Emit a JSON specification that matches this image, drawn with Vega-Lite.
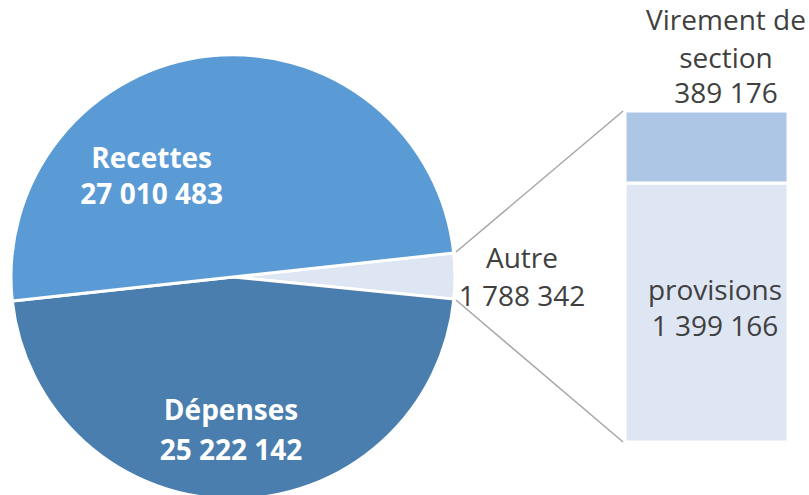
{
  "$schema": "https://vega.github.io/schema/vega-lite/v6.json",
  "width": 809,
  "height": 495,
  "padding": 0,
  "autosize": {"type": "none"},
  "background": "white",
  "config": {
    "view": {"stroke": null},
    "axis": {"disable": true},
    "locale": {"number": {"decimal": ",", "thousands": " ", "grouping": [3], "currency": ["", " €"]}},
    "text": {"font": "Open Sans", "fontSize": 28, "baseline": "middle", "align": "center"}
  },
  "datasets": {
    "camembert": [
      {"poste": "Autre", "montant": 1788342, "rang": 1},
      {"poste": "Dépenses", "montant": 25222142, "rang": 2},
      {"poste": "Recettes", "montant": 27010483, "rang": 3}
    ],
    "barre": [
      {"poste": "provisions", "montant": 1399166, "rang": 1},
      {"poste": "Virement de\nsection", "montant": 389176, "rang": 2}
    ]
  },
  "layer": [
    {
      "data": {"name": "camembert"},
      "mark": {"type": "arc", "outerRadius": 222, "stroke": "white", "strokeWidth": 3},
      "encoding": {
        "x": {"datum": 0, "type": "quantitative", "scale": {"domain": [-1.0543, 2.6063], "nice": false, "zero": false}},
        "y": {"datum": 891461, "type": "quantitative", "scale": {"domain": [-286354, 2388064], "nice": false, "zero": false}},
        "theta": {"field": "montant", "type": "quantitative", "scale": {"range": [1.4626, 7.7458]}},
        "order": {"field": "rang", "type": "quantitative"},
        "color": {
          "field": "poste", "type": "nominal", "legend": null,
          "scale": {
            "domain": ["Recettes", "Dépenses", "Autre", "Virement de\nsection", "provisions"],
            "range": ["#5b9bd5", "#4a7eae", "#dee6f3", "#adc6e5", "#dfe6f3"]
          }
        }
      }
    },
    {
      "data": {"name": "barre"},
      "transform": [
        {"stack": "montant", "groupby": [], "sort": [{"field": "rang", "order": "ascending"}], "as": ["bas", "haut"]}
      ],
      "mark": {"type": "rect", "stroke": "white", "strokeWidth": 3},
      "encoding": {
        "x": {"datum": 1.7738, "type": "quantitative"},
        "x2": {"datum": 2.5113},
        "y": {"field": "bas", "type": "quantitative"},
        "y2": {"field": "haut"},
        "color": {"field": "poste", "type": "nominal", "legend": null}
      }
    },
    {
      "data": {"values": [{"lien": "haut"}]},
      "mark": {"type": "rule", "color": "#a6a6a6", "strokeWidth": 1.5},
      "encoding": {
        "x": {"datum": 1.009, "type": "quantitative"},
        "y": {"datum": 1026533, "type": "quantitative"},
        "x2": {"datum": 1.765},
        "y2": {"datum": 1788342}
      }
    },
    {
      "data": {"values": [{"lien": "bas"}]},
      "mark": {"type": "rule", "color": "#a6a6a6", "strokeWidth": 1.5},
      "encoding": {
        "x": {"datum": 1.009, "type": "quantitative"},
        "y": {"datum": 767194, "type": "quantitative"},
        "x2": {"datum": 1.765},
        "y2": {"datum": 0}
      }
    },
    {
      "data": {"name": "camembert"},
      "transform": [{"filter": {"field": "poste", "equal": "Recettes"}}],
      "layer": [
        {"mark": {"type": "text", "fontWeight": "bold", "color": "white", "dy": -18}, "encoding": {"text": {"field": "poste"}}},
        {"mark": {"type": "text", "fontWeight": "bold", "color": "white", "dy": 18}, "encoding": {"text": {"field": "montant", "format": ",d"}}}
      ],
      "encoding": {
        "x": {"datum": -0.368, "type": "quantitative"},
        "y": {"datum": 1426348, "type": "quantitative"}
      }
    },
    {
      "data": {"name": "camembert"},
      "transform": [{"filter": {"field": "poste", "equal": "Dépenses"}}],
      "layer": [
        {"mark": {"type": "text", "fontWeight": "bold", "color": "white", "dy": -20}, "encoding": {"text": {"field": "poste"}}},
        {"mark": {"type": "text", "fontWeight": "bold", "color": "white", "dy": 20}, "encoding": {"text": {"field": "montant", "format": ",d"}}}
      ],
      "encoding": {
        "x": {"datum": -0.009, "type": "quantitative"},
        "y": {"datum": 53999, "type": "quantitative"}
      }
    },
    {
      "data": {"name": "camembert"},
      "transform": [{"filter": {"field": "poste", "equal": "Autre"}}],
      "layer": [
        {"mark": {"type": "text", "color": "#404040", "dy": -19}, "encoding": {"text": {"field": "poste"}}},
        {"mark": {"type": "text", "color": "#404040", "dy": 19}, "encoding": {"text": {"field": "montant", "format": ",d"}}}
      ],
      "encoding": {
        "x": {"datum": 1.3077, "type": "quantitative"},
        "y": {"datum": 880655, "type": "quantitative"}
      }
    },
    {
      "data": {"name": "barre"},
      "transform": [{"filter": {"field": "poste", "equal": "provisions"}}],
      "layer": [
        {"mark": {"type": "text", "color": "#404040", "dy": -18}, "encoding": {"text": {"field": "poste"}}},
        {"mark": {"type": "text", "color": "#404040", "dy": 18}, "encoding": {"text": {"field": "montant", "format": ",d"}}}
      ],
      "encoding": {
        "x": {"datum": 2.181, "type": "quantitative"},
        "y": {"datum": 713165, "type": "quantitative"}
      }
    },
    {
      "data": {"name": "barre"},
      "transform": [{"filter": {"field": "rang", "equal": 2}}],
      "layer": [
        {
          "mark": {"type": "text", "color": "#404040", "lineBreak": "\n", "lineHeight": 38},
          "encoding": {"y": {"datum": 2269200, "type": "quantitative"}, "text": {"field": "poste"}}
        },
        {
          "mark": {"type": "text", "color": "#404040"},
          "encoding": {"y": {"datum": 1874788, "type": "quantitative"}, "text": {"field": "montant", "format": ",d"}}
        }
      ],
      "encoding": {
        "x": {"datum": 2.2308, "type": "quantitative"}
      }
    }
  ]
}
